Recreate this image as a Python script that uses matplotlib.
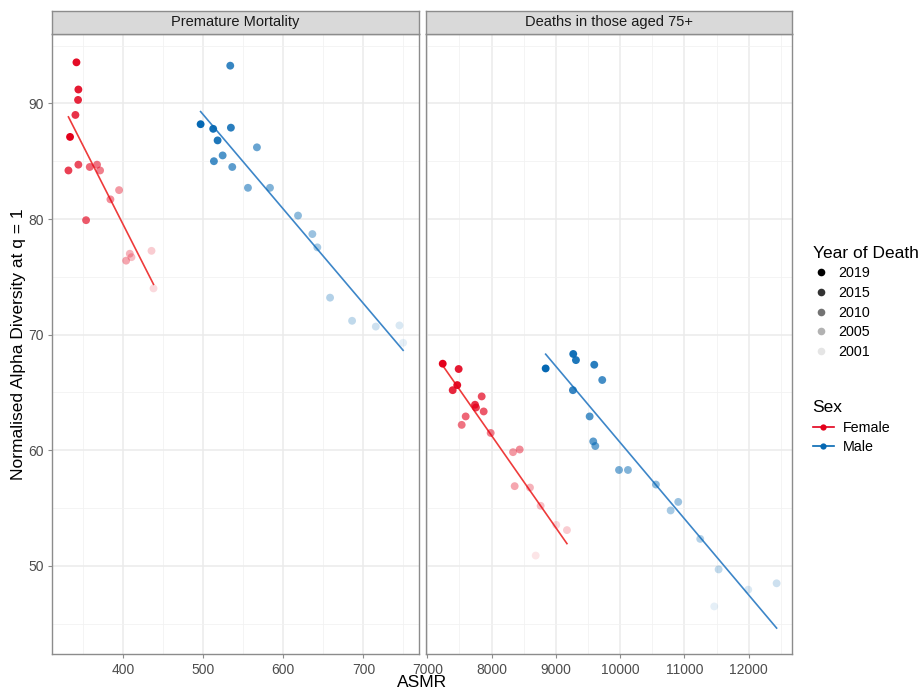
import numpy as np
import matplotlib.pyplot as plt
from matplotlib.lines import Line2D
from matplotlib.ticker import MultipleLocator

plt.rcParams['font.family'] = ['Liberation Sans', 'DejaVu Sans']

# Premature mortality panel
pm_f_year = [2019, 2018, 2017, 2016, 2015, 2014, 2013, 2012, 2011, 2010,
             2009, 2008, 2007, 2006, 2005, 2004, 2003, 2002]
pm_f_asmr = [333.8, 341.8, 344.2, 343.8, 340.5, 331.8, 344.2, 353.8, 358.4, 367.5,
             371.3, 384.2, 395.0, 403.8, 408.4, 410.5, 435.5, 438.0]
pm_f_div = [87.1, 93.55, 91.2, 90.3, 89.0, 84.2, 84.7, 79.9, 84.5, 84.7,
            84.2, 81.7, 82.5, 76.4, 77.0, 76.7, 77.25, 74.0]

pm_m_year = list(range(2019, 2000, -1))
pm_m_asmr = [496.8, 512.5, 518.0, 534.6, 533.8, 513.4, 524.3, 536.3, 567.1, 555.9,
             583.4, 618.4, 636.3, 642.5, 658.4, 685.9, 715.5, 745.0, 749.6]
pm_m_div = [88.2, 87.8, 86.8, 87.9, 93.26, 85.0, 85.5, 84.5, 86.2, 82.7,
            82.7, 80.3, 78.7, 77.55, 73.2, 71.2, 70.7, 70.8, 69.3]

# Deaths in those aged 75+ panel
old_f_year = list(range(2019, 2000, -1))
old_f_asmr = [7240, 7466, 7488, 7395, 7742, 7757, 7846, 7877, 7597, 7535,
              7986, 8437, 8333, 8359, 8597, 8763, 9172, 9006, 8686]
old_f_div = [67.49, 65.64, 67.03, 65.2, 63.94, 63.7, 64.66, 63.36, 62.93, 62.2,
             61.5, 60.07, 59.84, 56.9, 56.78, 55.2, 53.1, 53.55, 50.9]

old_m_year = list(range(2019, 2000, -1))
old_m_asmr = [8841, 9270, 9312, 9597, 9265, 9721, 9525, 9581, 9613, 9982,
              10121, 10556, 10903, 10785, 11245, 11531, 12433, 11992, 11463]
old_m_div = [67.08, 68.33, 67.8, 67.4, 65.2, 66.08, 62.93, 60.77, 60.37, 58.3,
             58.3, 57.04, 55.54, 54.8, 52.34, 49.7, 48.5, 47.95, 46.5]

facets = ['Premature Mortality', 'Deaths in those aged 75+']
legend_years = [2019, 2015, 2010, 2005, 2001]
sexes = ['Female', 'Male']
sex_colors = {'Female': '#E3001B', 'Male': '#0568B3'}
line_colors = {'Female': '#EE3B3B', 'Male': '#3D86C8'}


def year_alpha(y):
    return 0.1 + 0.9 * (np.asarray(y) - 2001) / 18.0


fig = plt.figure(figsize=(9.2, 6.91), dpi=100)
ax1 = fig.add_axes([0.0565, 0.0531, 0.399, 0.8977])
ax2 = fig.add_axes([0.4634, 0.0531, 0.398, 0.8977])

panels = [
    (ax1, [(pm_f_asmr, pm_f_div, pm_f_year, 'Female'), (pm_m_asmr, pm_m_div, pm_m_year, 'Male')],
     (311.25, 769.5), 100, 50),
    (ax2, [(old_f_asmr, old_f_div, old_f_year, 'Female'), (old_m_asmr, old_m_div, old_m_year, 'Male')],
     (6985, 12680), 1000, 500),
]

for (ax, groups, xlim, major, minor), title in zip(panels, facets):
    for xs, ys, yrs, sex in groups:
        xs = np.array(xs, dtype=float)
        ys = np.array(ys, dtype=float)
        rgba = np.zeros((len(xs), 4))
        rgba[:, :3] = plt.matplotlib.colors.to_rgb(sex_colors[sex])
        rgba[:, 3] = year_alpha(yrs)
        k, b = np.polyfit(xs, ys, 1)
        xx = np.array([xs.min(), xs.max()])
        ax.plot(xx, k * xx + b, color=line_colors[sex], lw=1.2, zorder=3)
        ax.scatter(xs, ys, s=32, c=rgba, linewidths=0, zorder=4)

    ax.set_xlim(*xlim)
    ax.set_ylim(42.36, 96.0)
    ax.xaxis.set_major_locator(MultipleLocator(major))
    ax.xaxis.set_minor_locator(MultipleLocator(minor))
    ax.yaxis.set_major_locator(MultipleLocator(10))
    ax.yaxis.set_minor_locator(MultipleLocator(5))
    ax.grid(which='major', color='#EBEBEB', lw=1.1, zorder=0)
    ax.grid(which='minor', color='#F2F2F2', lw=0.6, zorder=0)
    ax.set_axisbelow(True)
    for sp in ax.spines.values():
        sp.set_color('#8C8C8C')
        sp.set_linewidth(1.0)
    ax.tick_params(which='major', length=3, color='#8C8C8C', labelsize=10,
                   labelcolor='#4D4D4D', pad=3)
    ax.tick_params(which='minor', length=0)

    # facet strip
    strip = ax.inset_axes([0, 1.0, 1, 0.0371], transform=ax.transAxes)
    strip.set_facecolor('#D9D9D9')
    strip.set_xticks([])
    strip.set_yticks([])
    for sp in strip.spines.values():
        sp.set_color('#8C8C8C')
        sp.set_linewidth(1.0)
    strip.text(0.5, 0.5, title, ha='center', va='center', fontsize=10.5,
               color='#1A1A1A', transform=strip.transAxes)

ax2.tick_params(axis='y', which='both', left=False, labelleft=False)

fig.text(0.0196, 0.502, 'Normalised Alpha Diversity at q = 1', rotation=90,
         ha='center', va='center', fontsize=12.5)
fig.text(0.459, 0.001, 'ASMR', ha='center', va='bottom', fontsize=12.5)

# legends
year_handles = [Line2D([], [], ls='', marker='o', ms=5.5, mec='none', mfc='black',
                       alpha=float(year_alpha(y))) for y in legend_years]
fig.legend(year_handles, [str(y) for y in legend_years], title='Year of Death',
           loc='upper left', bbox_to_anchor=(0.874, 0.657), frameon=False,
           fontsize=10.3, title_fontsize=12.5, alignment='left',
           handlelength=1.2, handletextpad=0.6, labelspacing=0.4,
           borderpad=0.1)

sex_handles = [Line2D([], [], color=sex_colors[s], lw=1.2, marker='o', ms=4.5, mec='none')
               for s in sexes]
fig.legend(sex_handles, sexes, title='Sex', loc='upper left',
           bbox_to_anchor=(0.874, 0.433), frameon=False,
           fontsize=10.3, title_fontsize=12.5, alignment='left',
           handlelength=1.5, handletextpad=0.6, labelspacing=0.38,
           borderpad=0.1)

fig.savefig('out.png', dpi=100)
